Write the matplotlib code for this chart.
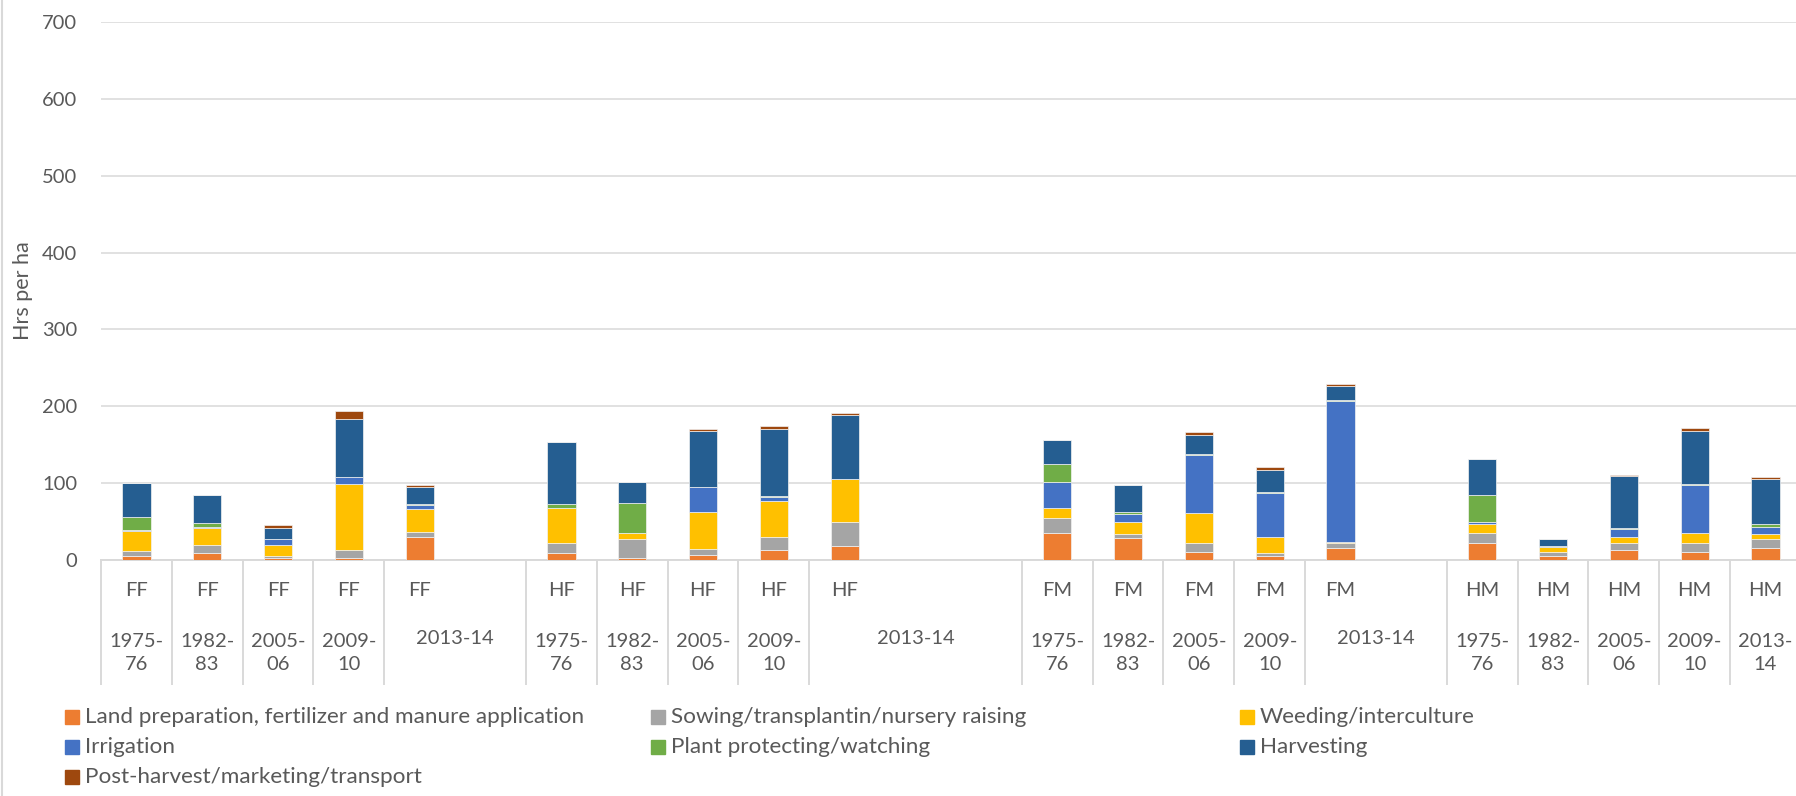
import matplotlib
matplotlib.use("Agg")
import matplotlib.pyplot as plt
import matplotlib.transforms as mtransforms
from matplotlib.lines import Line2D
from matplotlib.patches import Rectangle

GROUPS = ["FF", "HF", "FM", "HM"]
YEARS = ["1975-76", "1982-83", "2005-06", "2009-10", "2013-14"]
# empty category slots that follow each group on the Excel axis
PAD_SLOTS = [1, 2, 1, 0]

SERIES = [
    "Land preparation, fertilizer and manure application",
    "Sowing/transplantin/nursery raising",
    "Weeding/interculture",
    "Irrigation",
    "Plant protecting/watching",
    "Harvesting",
    "Post-harvest/marketing/transport",
]
COLORS = ["#ED7D31", "#A5A5A5", "#FFC000", "#4472C4", "#70AD47", "#255E91", "#9E480E"]

# one value per bar, in order FF x5, HF x5, FM x5, HM x5
land = [5.5, 9.5, 3, 2, 29.5, 8.5, 3, 7, 13, 18.5, 34.5, 29, 10, 5.5, 15, 21.5, 5.5, 13.5, 11, 16]
sowing = [6.5, 10, 2.6, 11, 7.5, 13, 24, 7, 16.5, 30.5, 20.5, 5, 11.5, 3, 6.5, 13, 5.5, 8, 10.5, 11.5]
weeding = [26, 22.5, 14.4, 86, 29, 46.5, 8.5, 48, 47, 56, 13, 16, 39.5, 21.5, 2.5, 12, 6.5, 9, 14, 6]
irrigation = [0.5, 1, 7, 9, 6, 0, 0, 32.5, 5.5, 0, 33.5, 10, 76, 57.5, 183, 2.5, 0.5, 10, 62, 9.5]
protecting = [17.5, 4.5, 0.5, 0.5, 0.5, 5.5, 39, 0.5, 1.5, 0, 23, 2, 0.5, 0.5, 1.5, 35.5, 0, 0.5, 1.5, 3.5]
harvesting = [44, 36.5, 14.5, 74.5, 22, 80, 26.5, 72.5, 87, 84, 31, 36, 25.5, 28.5, 18, 47, 9, 68, 69, 59]
post_harvest = [0, 0, 4, 11, 2.5, 0, 0, 3.5, 3.5, 2.5, 0, 0, 3, 4.5, 2, 0, 0, 1, 3.5, 2]

VALUES = [land, sowing, weeding, irrigation, protecting, harvesting, post_harvest]

TEXT = "#595959"
GRID = "#D9D9D9"
W, H = 1796, 796


def px_y(p):
    return (H - p) / H


def main():
    plt.rcParams["font.family"] = ["Lato", "DejaVu Sans"]
    fig = plt.figure(figsize=(W / 100, H / 100), dpi=100)

    slot = 70.83
    left_px, bottom_px, top_px = 101, 560, 22
    ax = fig.add_axes([left_px / W, px_y(bottom_px), (W - left_px) / W, (bottom_px - top_px) / H])

    # slot positions of the bars
    xs, labels_top, spans = [], [], []
    pos = 0
    for g, pad in zip(GROUPS, PAD_SLOTS):
        for i, yr in enumerate(YEARS):
            xs.append(pos)
            labels_top.append(g)
            span = 1 + pad if i == len(YEARS) - 1 else 1
            spans.append((pos, span, yr))
            pos += 1
        pos += pad

    bottom = [0.0] * len(xs)
    for name, vals, col in zip(SERIES, VALUES, COLORS):
        ax.bar(xs, vals, width=0.4, bottom=bottom, color=col, edgecolor="#F2F2F2",
               linewidth=0.5, label=name, zorder=3)
        bottom = [b + v for b, v in zip(bottom, vals)]

    ax.set_ylim(0, 700)
    ax.set_xlim(-0.5, -0.5 + (W - left_px) / slot)
    ax.set_yticks(range(0, 701, 100))
    ax.yaxis.grid(True, color=GRID, linewidth=1.1, zorder=0)
    ax.tick_params(axis="y", length=0, pad=17, labelsize=14.5, labelcolor=TEXT)
    ax.tick_params(axis="x", length=0, labelbottom=False)
    for s in ["top", "right", "left"]:
        ax.spines[s].set_visible(False)
    ax.spines["bottom"].set_color(GRID)
    ax.spines["bottom"].set_linewidth(1.4)

    trans = mtransforms.blended_transform_factory(ax.transData, fig.transFigure)
    for x, g in zip(xs, labels_top):
        ax.text(x, px_y(591), g, transform=trans, ha="center", va="center",
                fontsize=14.5, color=TEXT, clip_on=False)
    bounds = [-0.5]
    for start, span, yr in spans:
        cx = start + (span - 1) / 2
        if span > 1:
            ax.text(cx, px_y(638), yr, transform=trans, ha="center", va="center",
                    fontsize=14.5, color=TEXT, clip_on=False)
        else:
            a, b = yr.split("-")
            ax.text(cx, px_y(653), a + "-\n" + b, transform=trans, ha="center", va="center",
                    fontsize=14.5, color=TEXT, linespacing=1.4, clip_on=False)
        bounds.append(start + span - 0.5)
    for b in bounds:
        ax.add_line(Line2D([b, b], [px_y(560), px_y(684)], transform=trans,
                           color=GRID, linewidth=1.4, clip_on=False))

    fig.text(23 / W, px_y(291), "Hrs per ha", rotation=90, ha="center", va="center",
             fontsize=15.5, color=TEXT)

    # legend, laid out like Excel: three columns, filled row by row
    col_x = [65, 651, 1240]
    row_y = [717, 747, 777]
    for i, (name, col) in enumerate(zip(SERIES, COLORS)):
        r, c = divmod(i, 3)
        fig.add_artist(Rectangle((col_x[c] / W, px_y(row_y[r] + 7)), 14 / W, 14 / H,
                                 transform=fig.transFigure, color=col))
        fig.text((col_x[c] + 20) / W, px_y(row_y[r]), name, ha="left", va="center",
                 fontsize=16.2, color=TEXT)

    fig.add_artist(Line2D([2 / W, 2 / W], [0, 1], transform=fig.transFigure,
                          color=GRID, linewidth=1.5))

    fig.savefig("out.png", dpi=100)
    plt.close(fig)


if __name__ == "__main__":
    main()
